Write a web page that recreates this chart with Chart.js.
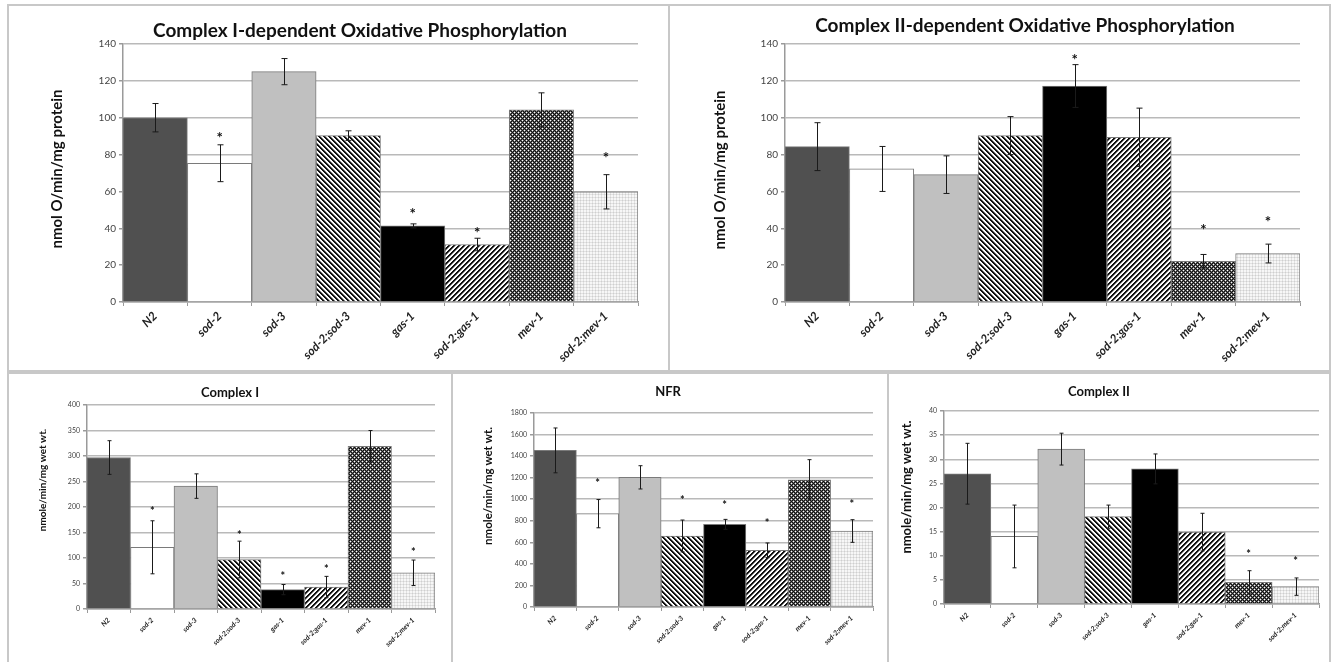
<!DOCTYPE html>
<html><head><meta charset="utf-8">
<script src="https://cdn.jsdelivr.net/npm/chart.js@4.4.0/dist/chart.umd.min.js"></script>
<style>
html,body{margin:0;padding:0;background:#fff;width:1334px;height:662px;overflow:hidden;position:relative}
.panel{position:absolute;border:2px solid #c8c8c8;box-sizing:border-box}
canvas{position:absolute}
</style></head><body>
<div class="panel" style="left:7px;top:4px;width:663px;height:368px"></div>
<div class="panel" style="left:668px;top:4px;width:663px;height:368px"></div>
<div class="panel" style="left:7px;top:372px;width:446px;height:300px"></div>
<div class="panel" style="left:451px;top:372px;width:438px;height:300px"></div>
<div class="panel" style="left:887px;top:372px;width:444px;height:300px"></div>
<canvas id="c1" width="655" height="360" style="left:10px;top:8px"></canvas>
<canvas id="c2" width="655" height="360" style="left:673px;top:8px"></canvas>
<canvas id="c3" width="433" height="285" style="left:10px;top:377px"></canvas>
<canvas id="c4" width="428" height="285" style="left:457px;top:377px"></canvas>
<canvas id="c5" width="438" height="285" style="left:890px;top:377px"></canvas>
<script>
// ---------- data ----------
const categories = ['N2','sod-2','sod-3','sod-2;sod-3','gas-1','sod-2;gas-1','mev-1','sod-2;mev-1'];

const oxphosC1Mean = [100, 75.3, 125, 90.3, 41.3, 31.2, 104.3, 59.8];
const oxphosC1Err  = [7.7, 10, 7.1, 2.6, 1.1, 3.4, 9.2, 9.3];
const oxphosC1Star = [null, 91, null, null, 49.5, 39.5, null, 80.2];

const oxphosC2Mean = [84.3, 72.2, 69.1, 90.3, 117.2, 89.4, 22.1, 26.3];
const oxphosC2Err  = [13, 12.2, 10.2, 10.3, 11.6, 15.8, 3.7, 5.1];
const oxphosC2Star = [null, null, null, null, 132.9, null, 40.8, 45];

const complexIMean = [297, 121, 241, 97, 38, 43, 319, 71];
const complexIErr  = [33, 52, 24, 36, 10, 21, 31, 25];
const complexIStar = [null, 196, null, 150, 68, 83, null, 116];

const nfrMean = [1453, 866, 1203, 659, 767, 526, 1181, 705];
const nfrErr  = [208, 131, 108, 148, 46, 68, 186, 105];
const nfrStar = [null, 1169, null, 1011, 968, 795, null, 980];

const complexIIMean = [27, 14, 32.1, 18.1, 28, 14.9, 4.5, 3.6];
const complexIIErr  = [6.3, 6.5, 3.3, 2.4, 3.1, 3.9, 2.4, 1.8];
const complexIIStar = [null, null, null, null, null, null, 10.8, 9.3];

const titles = ['Complex I-dependent Oxidative Phosphorylation','Complex II-dependent Oxidative Phosphorylation','Complex I','NFR','Complex II'];
const yTitles = ['nmol O/min/mg protein','nmol O/min/mg protein','nmole/min/mg wet wt.','nmole/min/mg wet wt.','nmole/min/mg wet wt.'];

// ---------- patterns ----------
function tile(size, fn){
  const c = document.createElement('canvas'); c.width = size; c.height = size;
  const g = c.getContext('2d');
  for(let y=0;y<size;y++) for(let x=0;x<size;x++){ g.fillStyle = fn(x,y); g.fillRect(x,y,1,1); }
  return g.createPattern(c,'repeat');
}
const back = tile(5,(x,y)=>{const m=((x-y)%5+5)%5; return m<2?'#111':(m==2?'#888':'#fff');});
const fwd  = tile(5,(x,y)=>{const m=(x+y)%5; return m<2?'#111':(m==2?'#888':'#fff');});
const check = tile(4,(x,y)=>{
  if((x==0&&y==0)||(x==2&&y==2)) return '#fff';
  if((x+y)%2==1) return '#666';
  return '#111';
});
const dots = tile(3,(x,y)=>{ if(x==0&&y==0) return '#cfcfcf'; if(x==0||y==0) return '#e2e2e2'; return '#f7f7f7';});
const barFills = ['#505050','#ffffff','#c0c0c0',back,'#000000',fwd,check,dots];

// ---------- plugins ----------
const extras = {
  id:'extras',
  afterDatasetsDraw(chart, args, o){
    const meta = chart.getDatasetMeta(0), ys = chart.scales.y, ctx = chart.ctx;
    const vals = chart.data.datasets[0].data;
    ctx.save();
    ctx.strokeStyle = '#1a1a1a'; ctx.lineWidth = o.lw;
    vals.forEach((v,i)=>{
      const e = o.err[i]; if(e==null) return;
      const x = Math.round(meta.data[i].x)+0.5;
      const y1 = ys.getPixelForValue(v+e), y2 = ys.getPixelForValue(v-e);
      ctx.beginPath();
      ctx.moveTo(x,y1); ctx.lineTo(x,y2);
      ctx.moveTo(x-o.cap,y1); ctx.lineTo(x+o.cap,y1);
      ctx.moveTo(x-o.cap,y2); ctx.lineTo(x+o.cap,y2);
      ctx.stroke();
    });
    ctx.fillStyle = '#111';
    ctx.font = 'bold '+o.starSize+'px Lato';
    ctx.textAlign = 'center'; ctx.textBaseline = 'alphabetic';
    o.star.forEach((s,i)=>{
      if(s==null) return;
      ctx.fillText('*', meta.data[i].x, ys.getPixelForValue(s) + o.starSize*0.56);
    });
    ctx.restore();
  },
  afterDraw(chart, args, o){
    const ctx = chart.ctx;
    ctx.save();
    ctx.fillStyle = '#111';
    ctx.textAlign = 'center'; ctx.textBaseline = 'middle';
    ctx.font = 'bold '+o.titleSize+'px Lato';
    ctx.fillText(o.title, o.tx, o.ty);
    ctx.translate(o.yx, o.yy);
    ctx.rotate(-Math.PI/2);
    ctx.font = 'bold '+o.ySize+'px Lato';
    ctx.fillText(o.yTitle, 0, 0);
    ctx.restore();
  }
};

function makeChart(id, idx, mean, err, star, p){
  return new Chart(document.getElementById(id), {
    type:'bar',
    data:{ labels: categories, datasets:[{ data: mean, backgroundColor: barFills, borderColor:'#7a7a7a', borderWidth:1, barPercentage:1, categoryPercentage:1 }]},
    plugins:[extras],
    options:{
      responsive:false, animation:false, devicePixelRatio:1,
      layout:{ padding:{ left:0, top:p.top, right:p.right, bottom:p.bottom }},
      plugins:{ legend:{display:false}, tooltip:{enabled:false}, title:{display:false},
        extras:{ err, star, lw:1, cap:p.cap, starSize:p.starSize, title:titles[idx], titleSize:p.titleSize, tx:p.tx, ty:p.ty, yTitle:yTitles[idx], ySize:p.ySize, yx:p.yx, yy:p.yy } },
      scales:{
        x:{
          afterFit:(s)=>{ s.height = p.xH; },
          border:{ color:'#9a9a9a', width:1.5 },
          grid:{ display:true, drawOnChartArea:false, drawTicks:true, tickLength:4, offset:true, color:'#9a9a9a' },
          ticks:{ autoSkip:false, minRotation:45, maxRotation:45, padding:p.xPad, color:'#222', font:{ family:'Lato', size:p.xSize, style:'italic', weight:'bold' } }
        },
        y:{
          min:0, max:p.yMax,
          afterFit:(s)=>{ s.width = p.yW; },
          border:{ color:'#9a9a9a', width:1.5 },
          grid:{ color:'#b9b9b9', lineWidth:1.5, tickLength:4, tickColor:'#9a9a9a' },
          ticks:{ stepSize:p.step, padding:3, color:'#444', format:{ useGrouping:false }, font:{ family:'Lato', size:p.ySizeTick } }
        }
      }
    }
  });
}

makeChart('c1',0,oxphosC1Mean,oxphosC1Err,oxphosC1Star,{top:36,right:27,bottom:4,xH:62,yW:113,yMax:140,step:20,cap:3,starSize:15,titleSize:19,tx:350,ty:23,ySize:15,yx:47,yy:161,xSize:12,xPad:3,ySizeTick:10});
makeChart('c2',1,oxphosC2Mean,oxphosC2Err,oxphosC2Star,{top:36,right:28,bottom:4,xH:62,yW:112,yMax:140,step:20,cap:3,starSize:15,titleSize:19,tx:352,ty:18,ySize:15,yx:47,yy:162,xSize:12,xPad:3,ySizeTick:10});
makeChart('c3',2,complexIMean,complexIErr,complexIStar,{top:28,right:8,bottom:3,xH:50,yW:77,yMax:400,step:50,cap:2,starSize:11,titleSize:13,tx:220,ty:16,ySize:10,yx:33,yy:103,xSize:7,xPad:3,ySizeTick:7});
makeChart('c4',3,nfrMean,nfrErr,nfrStar,{top:36,right:12,bottom:3,xH:52,yW:77,yMax:1800,step:200,cap:2,starSize:11,titleSize:13,tx:211,ty:15,ySize:11.5,yx:31,yy:109,xSize:7,xPad:3,ySizeTick:7});
makeChart('c5',4,complexIIMean,complexIIErr,complexIIStar,{top:34,right:9,bottom:3,xH:55,yW:54,yMax:40,step:5,cap:2,starSize:11,titleSize:13,tx:209,ty:15,ySize:13,yx:17,yy:110,xSize:7,xPad:3,ySizeTick:7});
</script>
</body></html>
